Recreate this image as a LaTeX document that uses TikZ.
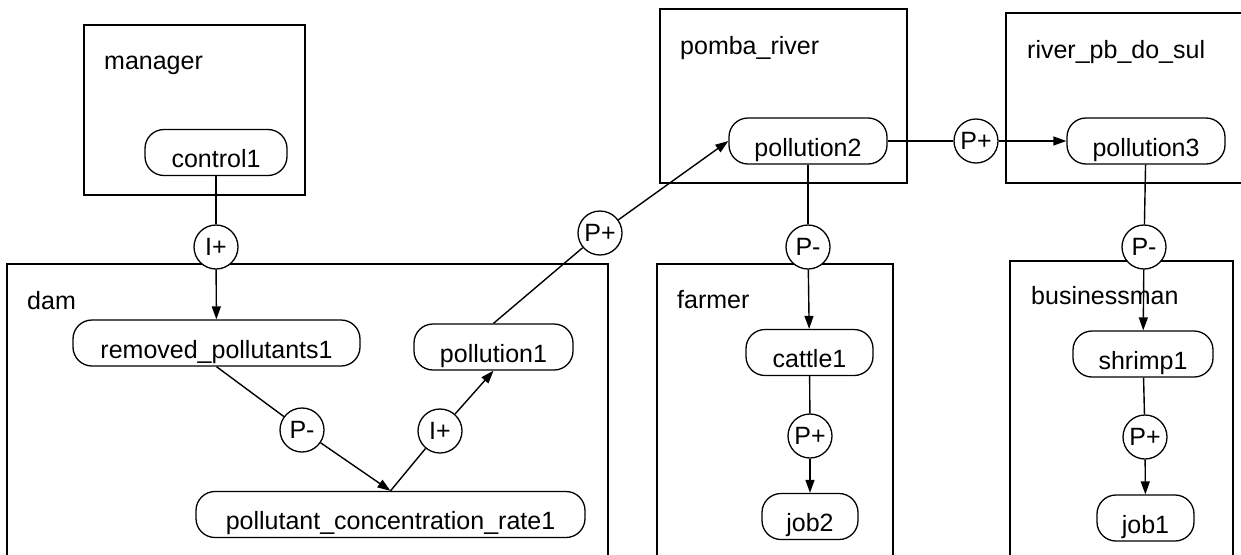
\documentclass[tikz,border=0pt]{standalone}
\usepackage{fontspec}
\setmainfont{Liberation Sans}
\usetikzlibrary{arrows.meta}
\begin{document}
\begin{tikzpicture}[x=1pt,y=-1pt,
  frame/.style={draw,line width=1.6pt},
  qty/.style={draw,line width=1.3pt,rounded corners=19pt,fill=white,text height=30pt,text depth=0pt,inner ysep=8pt,inner xsep=0pt,font=\fontsize{25}{30}\selectfont},
  rel/.style={draw,circle,line width=1.3pt,fill=white,minimum size=44pt,inner sep=0pt,font=\fontsize{25}{30}\selectfont},
  lbl/.style={anchor=base west,inner sep=0pt,font=\fontsize{25}{30}\selectfont},
  link/.style={line width=1.4pt},
  arr/.style={link,-{Triangle[length=13pt,width=9pt]}}
]
\useasboundingbox (0,0) rectangle (1241,554);
\fill[white] (0,0) rectangle (1241,554);

% containers
\draw[frame] (84,25) rectangle (305,195);
\node[lbl] (lmanager) at (104,69) {manager};
\draw[frame] (7,264) rectangle (608,600);
\node[lbl] (ldam) at (27,309) {dam};
\draw[frame] (660,9) rectangle (907,183);
\node[lbl] (lpomba) at (680,54) {pomba\_river};
\draw[frame] (1006,13) rectangle (1260,183);
\node[lbl] (lriver) at (1027,58) {river\_pb\_do\_sul};
\draw[frame] (657,264) rectangle (893,600);
\node[lbl] (lfarmer) at (677,308) {farmer};
\draw[frame] (1010,261) rectangle (1233,600);
\node[lbl] (lbiz) at (1031,304) {businessman};

% quantities
\node[qty,minimum width=142pt] (control1) at (216,152.5) {control1};
\node[qty,minimum width=287pt] (removed) at (216.5,343) {removed\_pollutants1};
\node[qty,minimum width=159pt] (pollution1) at (493.5,347) {pollution1};
\node[qty,minimum width=389pt] (pcr) at (390.5,514.5) {pollutant\_concentration\_rate1};
\node[qty,minimum width=158pt] (pollution2) at (808,141) {pollution2};
\node[qty,minimum width=158pt] (pollution3) at (1146,141) {pollution3};
\node[qty,minimum width=127pt] (cattle1) at (809.5,352.5) {cattle1};
\node[qty,minimum width=96pt] (job2) at (810,516.5) {job2};
\node[qty,minimum width=140pt] (shrimp1) at (1143,354) {shrimp1};
\node[qty,minimum width=97pt] (job1) at (1145.5,518) {job1};

% relations
\node[rel] (ip1) at (216,247) {I+};
\node[rel] (pm1) at (302,430) {P-};
\node[rel] (ip2) at (440,431) {I+};
\node[rel] (pp1) at (600,233) {P+};
\node[rel] (pp2) at (976,141) {P+};
\node[rel] (pm2) at (808,247) {P-};
\node[rel] (pm3) at (1144,247) {P-};
\node[rel] (pp3) at (810,436) {P+};
\node[rel] (pp4) at (1145,437) {P+};

% connectors
\draw[link] (control1) -- (ip1);
\draw[arr] (ip1) -- (removed);
\draw[link] (removed.south) -- (pm1);
\draw[arr] (pm1) -- (pcr.north);
\draw[link] (pcr.north) -- (ip2);
\draw[arr] (ip2) -- (pollution1.south);
\draw[link] (pollution1.north) -- (pp1);
\draw[arr] (pp1) -- (pollution2.west);
\draw[link] (pollution2.east) -- (pp2);
\draw[arr] (pp2) -- (pollution3.west);
\draw[link] (pollution2) -- (pm2);
\draw[arr] (pm2) -- (cattle1);
\draw[link] (cattle1) -- (pp3);
\draw[arr] (pp3) -- (job2);
\draw[link] (pollution3) -- (pm3);
\draw[arr] (pm3) -- (shrimp1);
\draw[link] (shrimp1) -- (pp4);
\draw[arr] (pp4) -- (job1);
\end{tikzpicture}
\end{document}
